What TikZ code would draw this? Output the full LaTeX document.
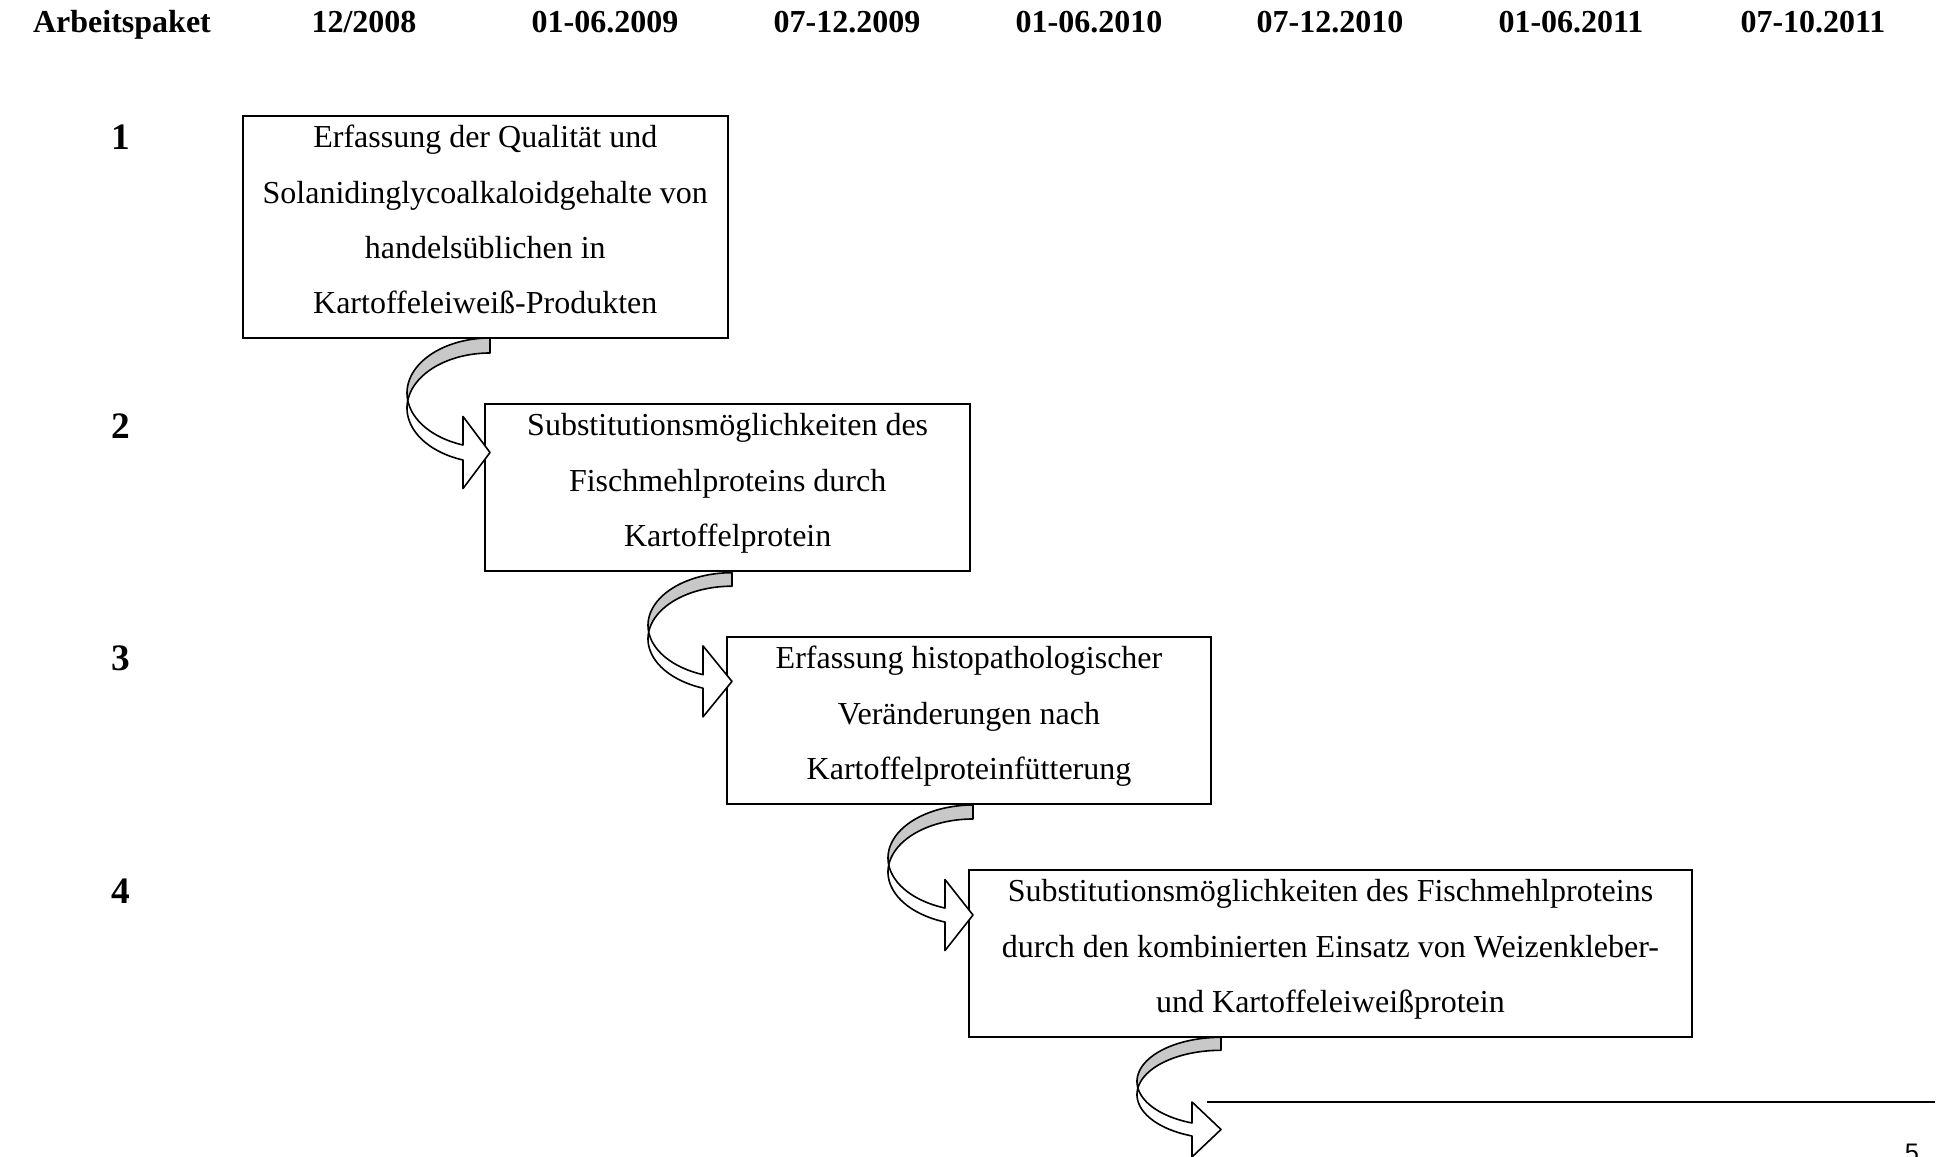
\documentclass[tikz,border=0pt]{standalone}
\usepackage{fontspec}
\setmainfont{Liberation Serif}
\newfontfamily\pnfont{Liberation Sans}
\newcommand\mytopst{\rule{0pt}{12pt}}
\newcommand\mybotst{\rule[-9.2pt]{0pt}{9.2pt}}
\definecolor{arrgray}{RGB}{200,200,200}
\tikzset{
  pbox/.style={draw, line width=0.75pt, anchor=north west, inner xsep=0pt, inner ysep=0pt,
    align=center, font=\fontsize{12}{20.74}\selectfont},
  hdr/.style={font=\bfseries\fontsize{12}{14.4}\selectfont, anchor=base, inner sep=0pt},
  rownum/.style={font=\bfseries\fontsize{14}{16}\selectfont, anchor=base, inner sep=0pt},
  arrline/.style={draw=black, line width=0.6pt, line join=round},
  boxline/.style={line width=0.75pt}
}
% cx, top, a, b, d, headlength, headhalf
\newcommand\curvedarr[7]{%
  \pgfmathsetmacro\arrCa{#2+#4}%
  \pgfmathsetmacro\arrCb{\arrCa+#5}%
  \pgfmathsetmacro\arrTa{180-asin(#5/(2*#4))}%
  \pgfmathsetmacro\arrTb{180+asin(#5/(2*#4))}%
  \pgfmathsetmacro\arrTh{acos(-#6/#3)}%
  \pgfmathsetmacro\arrHc{\arrCa+#5/2+#4*sin(\arrTh)}%
  \filldraw[arrline,fill=arrgray] plot[variable=\t,domain=270:\arrTa,samples=40] ({#1+#3*cos(\t)},{\arrCa+#4*sin(\t)})
     -- plot[variable=\t,domain=\arrTb:270,samples=40] ({#1+#3*cos(\t)},{\arrCb+#4*sin(\t)}) -- cycle;
  \filldraw[arrline,fill=white] plot[variable=\t,domain=\arrTb:\arrTh,samples=40] ({#1+#3*cos(\t)},{\arrCb+#4*sin(\t)})
     -- ({#1-#6},{\arrHc+#7}) -- ({#1},{\arrHc}) -- ({#1-#6},{\arrHc-#7})
     -- plot[variable=\t,domain=\arrTh:\arrTa,samples=40] ({#1+#3*cos(\t)},{\arrCa+#4*sin(\t)}) -- cycle;
}
\begin{document}
\begin{tikzpicture}[x=0.375pt,y=-0.375pt]
\useasboundingbox (0,0) rectangle (1950,1157);
\fill[white] (0,0) rectangle (1950,1157);

% header
\node[hdr] (h0) at (122,33) {Arbeitspaket};
\node[hdr] (h1) at (364,33) {12/2008};
\node[hdr] (h2) at (605,33) {01-06.2009};
\node[hdr] (h3) at (847,33) {07-12.2009};
\node[hdr] (h4) at (1089,33) {01-06.2010};
\node[hdr] (h5) at (1330,33) {07-12.2010};
\node[hdr] (h6) at (1571,33) {01-06.2011};
\node[hdr] (h7) at (1813,33) {07-10.2011};

% row numbers
\node[rownum] (r1) at (121,150) {1};
\node[rownum] (r2) at (121,439) {2};
\node[rownum] (r3) at (121,671) {3};
\node[rownum] (r4) at (121,904) {4};

% boxes
\node[pbox, minimum width=181.7pt] (b1) at (242,115)
  {\mytopst Erfassung der Qualität und\\ Solanidinglycoalkaloidgehalte von\\ handelsüblichen in\\ Kartoffeleiweiß-Produkten\mybotst};
\node[pbox, minimum width=182pt] (b2) at (484,403)
  {\mytopst Substitutionsmöglichkeiten des\\ Fischmehlproteins durch\\ Kartoffelprotein\mybotst};
\node[pbox, minimum width=181.5pt] (b3) at (726,636)
  {\mytopst Erfassung histopathologischer\\ Veränderungen nach\\ Kartoffelproteinfütterung\mybotst};
\node[pbox, minimum width=271.1pt] (b4) at (968,869)
  {\mytopst Substitutionsmöglichkeiten des Fischmehlproteins\\ durch den kombinierten Einsatz von Weizenkleber-\\ und Kartoffeleiweißprotein\mybotst};

% top edge of box 5
\coordinate (l5a) at (1207,1102);
\coordinate (l5b) at (1935,1102);
\draw[boxline] (l5a) -- (l5b);

% curved arrows
\curvedarr{490}{338}{83}{55}{15}{27}{36}
\curvedarr{732}{572.7}{84}{52.6}{13.5}{29}{35.5}
\curvedarr{973}{805}{85}{53}{14}{28}{35.5}
\curvedarr{1221}{1037.3}{84}{44.2}{13}{29}{27.5}

% page number (cut off)
\node[font=\pnfont\fontsize{9.5}{11}\selectfont, anchor=base, inner sep=0pt] (pn) at (1912,1161) {5};
\end{tikzpicture}
\end{document}
